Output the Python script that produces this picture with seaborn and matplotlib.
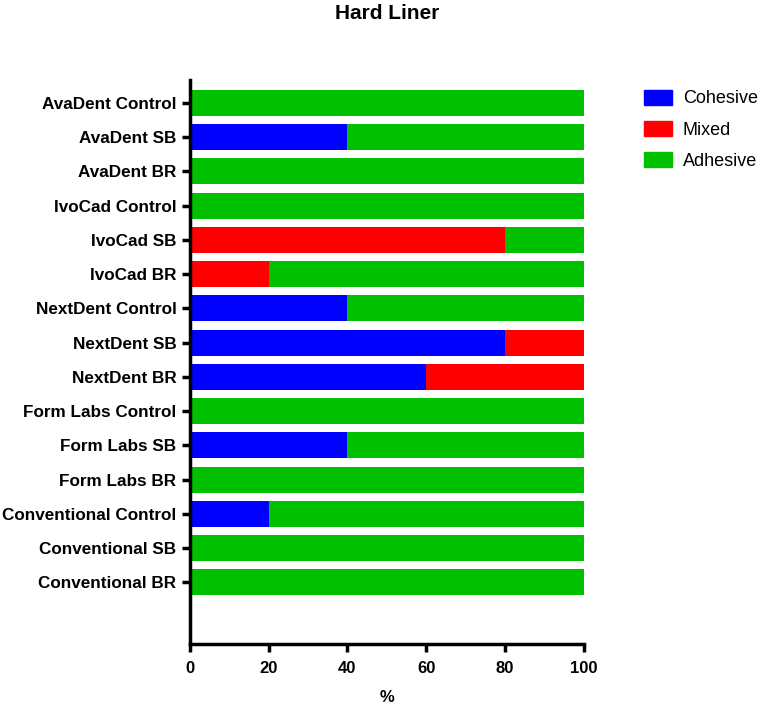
import matplotlib
matplotlib.use("Agg")
import matplotlib.pyplot as plt
import matplotlib.patches as mpatches
import seaborn as sns
import pandas as pd

groups = ["AvaDent Control", "AvaDent SB", "AvaDent BR",
          "IvoCad Control", "IvoCad SB", "IvoCad BR",
          "NextDent Control", "NextDent SB", "NextDent BR",
          "Form Labs Control", "Form Labs SB", "Form Labs BR",
          "Conventional Control", "Conventional SB", "Conventional BR"]
cohesive = [0, 40, 0, 0, 0, 0, 40, 80, 60, 0, 40, 0, 20, 0, 0]
mixed = [0, 0, 0, 0, 80, 20, 0, 20, 40, 0, 0, 0, 0, 0, 0]
adhesive = [100, 60, 100, 100, 20, 80, 60, 0, 0, 100, 60, 100, 80, 100, 100]

colors = {"Cohesive": "#0000FF", "Mixed": "#FF0000", "Adhesive": "#00C000"}

df = pd.DataFrame({"group": groups, "Cohesive": cohesive,
                   "Mixed": mixed, "Adhesive": adhesive})
# cumulative sums so the stacks can be drawn back to front
df["top_adh"] = df["Cohesive"] + df["Mixed"] + df["Adhesive"]
df["top_mix"] = df["Cohesive"] + df["Mixed"]

sns.set_style("white")
plt.rcParams["font.family"] = ["Liberation Sans", "DejaVu Sans"]
plt.rcParams["text.color"] = "black"
plt.rcParams["axes.labelcolor"] = "black"

fig = plt.figure(figsize=(7.62, 7.05), dpi=100)
ax = fig.add_axes([0.249, 0.0865, 0.517, 0.80])

for col, name in [("top_adh", "Adhesive"), ("top_mix", "Mixed"), ("Cohesive", "Cohesive")]:
    sns.barplot(data=df, x=col, y="group", order=groups, color=colors[name],
                width=0.76, linewidth=0, saturation=1, ax=ax, orient="h")

ax.set_xlim(0, 100)
ax.set_ylim(len(groups) - 1 + 1.8, -0.67)
ax.set_xticks([0, 20, 40, 60, 80, 100])
ax.set_xlabel("%", fontsize=12, fontweight="bold", labelpad=10)
ax.set_ylabel("")
ax.set_title("Hard Liner", fontsize=15, fontweight="bold", pad=44, color="black")

for s in ["top", "right"]:
    ax.spines[s].set_visible(False)
for s in ["left", "bottom"]:
    ax.spines[s].set_linewidth(2.5)
    ax.spines[s].set_color("black")
ax.tick_params(axis="both", direction="out", length=6, width=2.5, colors="black",
               bottom=True, left=True)
ax.tick_params(axis="y", labelsize=12.3)
ax.tick_params(axis="x", labelsize=12, pad=6)
for lbl in ax.get_xticklabels() + ax.get_yticklabels():
    lbl.set_fontweight("bold")

handles = [mpatches.Patch(color=colors[n], label=n) for n in ["Cohesive", "Mixed", "Adhesive"]]
fig.legend(handles=handles, loc="upper left", bbox_to_anchor=(0.845, 0.873),
           frameon=False, fontsize=13, handlelength=1.55, handleheight=0.9,
           labelspacing=0.75, handletextpad=0.6, borderpad=0, borderaxespad=0)

fig.savefig("out.png", dpi=100)
